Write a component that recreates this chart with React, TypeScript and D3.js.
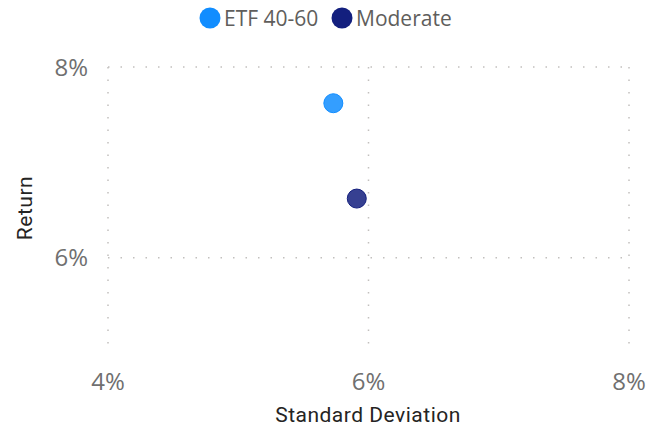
import React from 'react';
import * as d3 from 'd3';

const seriesNames = ['ETF 40-60', 'Moderate'];
const seriesColors = ['#118DFF', '#131F7E'];
const stdDev = [5.73, 5.91];
const returns = [7.62, 6.62];
const xTicks = [4, 6, 8];
const yTicks = [6, 8];

const W = 663;
const H = 428;

const App: React.FC = () => {
  const svgRef = React.useRef<SVGSVGElement>(null);

  React.useEffect(() => {
    if (!svgRef.current) return;
    const svg = d3.select(svgRef.current);
    svg.selectAll('*').remove();

    const x = d3.scaleLinear().domain([4, 8]).range([108, 629]);
    const y = d3.scaleLinear().domain([5, 8]).range([353, 67]);

    // Grid
    const grid = svg.append('g');
    xTicks.forEach(t => {
      grid.append('line')
        .attr('x1', x(t)).attr('x2', x(t))
        .attr('y1', y(8)).attr('y2', y(5))
        .attr('stroke', '#c2c0be')
        .attr('stroke-width', 1.5)
        .attr('stroke-dasharray', '1.5 11');
    });
    yTicks.forEach(t => {
      grid.append('line')
        .attr('x1', x(4)).attr('x2', x(8))
        .attr('y1', y(t)).attr('y2', y(t))
        .attr('stroke', '#c2c0be')
        .attr('stroke-width', 1.5)
        .attr('stroke-dasharray', '1.5 11');
    });

    // Y tick labels
    svg.append('g').selectAll('text')
      .data(yTicks)
      .join('text')
      .attr('x', 88)
      .attr('y', d => y(d))
      .attr('dy', '0.36em')
      .attr('text-anchor', 'end')
      .style('font-family', '"Open Sans", sans-serif')
      .style('font-size', '24px')
      .style('fill', '#707070')
      .text(d => `${d}%`);

    // X tick labels
    svg.append('g').selectAll('text')
      .data(xTicks)
      .join('text')
      .attr('x', d => x(d))
      .attr('y', 390)
      .attr('text-anchor', 'middle')
      .style('font-family', '"Open Sans", sans-serif')
      .style('font-size', '24px')
      .style('fill', '#707070')
      .text(d => `${d}%`);

    // Axis titles
    svg.append('text')
      .attr('x', 368)
      .attr('y', 422)
      .attr('text-anchor', 'middle')
      .style('font-family', 'Roboto, sans-serif')
      .style('font-size', '21px')
      .style('letter-spacing', '0.5px')
      .style('fill', '#252423')
      .text('Standard Deviation');

    svg.append('text')
      .attr('transform', 'translate(32,208) rotate(-90)')
      .attr('text-anchor', 'middle')
      .style('font-family', 'Roboto, sans-serif')
      .style('font-size', '21px')
      .style('letter-spacing', '0.5px')
      .style('fill', '#252423')
      .text('Return');

    // Points
    seriesNames.forEach((name, i) => {
      svg.append('circle')
        .attr('cx', x(stdDev[i]))
        .attr('cy', y(returns[i]))
        .attr('r', 9.5)
        .attr('fill', seriesColors[i])
        .attr('fill-opacity', 0.85)
        .attr('stroke', seriesColors[i])
        .attr('stroke-width', 1);
    });

    // Legend
    const legendX = [210, 342];
    seriesNames.forEach((name, i) => {
      svg.append('circle')
        .attr('cx', legendX[i])
        .attr('cy', 18)
        .attr('r', 10.5)
        .attr('fill', seriesColors[i]);
      svg.append('text')
        .attr('x', legendX[i] + 14)
        .attr('y', 18)
        .attr('dy', '0.36em')
        .style('font-family', '"Open Sans", sans-serif')
        .style('font-size', '21px')
        .style('fill', '#605E5C')
        .text(name);
    });
  }, []);

  return (
    <svg ref={svgRef} width={W} height={H} viewBox={`0 0 ${W} ${H}`}
      style={{ position: 'absolute', left: 0, top: 0, background: '#fff' }} />
  );
};

export default App;
